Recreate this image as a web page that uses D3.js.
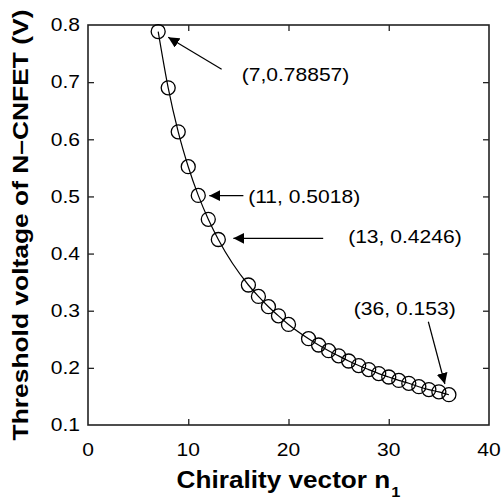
<!DOCTYPE html>
<html>
<head>
<meta charset="utf-8">
<script src="https://cdn.jsdelivr.net/npm/d3@7"></script>
<style>
  html, body { margin: 0; padding: 0; background: #fff; }
  svg { display: block; }
  text { font-family: "Liberation Sans", Arial, Helvetica, sans-serif; fill: #000; }
</style>
</head>
<body>
<svg id="chart" width="501" height="502"></svg>
<script>
// ---- data ----
const chirality = [7, 8, 9, 10, 11, 12, 13, 16, 17, 18, 19, 20, 22, 23, 24, 25, 26, 27, 28, 29, 30, 31, 32, 33, 34, 35, 36];
const thresholdVoltage = [0.78857, 0.690, 0.613, 0.552, 0.5018, 0.460, 0.4246, 0.345, 0.325, 0.307, 0.291, 0.276,
  0.251, 0.240, 0.230, 0.221, 0.212, 0.204, 0.197, 0.190, 0.184, 0.178, 0.173, 0.167, 0.162, 0.158, 0.153];
const xTickValues = [0, 10, 20, 30, 40];
const xTickLabels = ["0", "10", "20", "30", "40"];
const yTickValues = [0.1, 0.2, 0.3, 0.4, 0.5, 0.6, 0.7, 0.8];
const yTickLabels = ["0.1", "0.2", "0.3", "0.4", "0.5", "0.6", "0.7", "0.8"];
const annotationLabels = ["(7,0.78857)", "(11, 0.5018)", "(13, 0.4246)", "(36, 0.153)"];

// annotation layout (data units)
const annLayout = [
  { tip: [8.0, 0.7785], tail: [13.33, 0.7225], text: [15.33, 0.7125] },
  { tip: [12.1, 0.5013], tail: [15.5, 0.5013], text: [15.98, 0.4999] },
  { tip: [14.5, 0.4267], tail: [23.46, 0.4267], text: [25.95, 0.4295] },
  { tip: [35.6, 0.1717], tail: [33.95, 0.2807], text: [26.52, 0.3042] }
];

// ---- layout ----
const margin = { left: 88, right: 12, top: 25, bottom: 77 };
const W = 501, H = 502;
const x = d3.scaleLinear().domain([0, 40]).range([margin.left, W - margin.right]);
const y = d3.scaleLinear().domain([0.1, 0.8]).range([H - margin.bottom, margin.top]);
const svg = d3.select("#chart");
const stretch = 1.17;
const tickLen = 6;

const defs = svg.append("defs");
defs.append("marker")
  .attr("id", "arrow")
  .attr("viewBox", "0 0 11 11")
  .attr("refX", 11).attr("refY", 5.5)
  .attr("markerWidth", 11).attr("markerHeight", 11)
  .attr("markerUnits", "userSpaceOnUse")
  .attr("orient", "auto")
  .append("path").attr("d", "M0,0 L11,5.5 L0,11 Z").attr("fill", "#000");

// ---- axes (ticks inward on all sides) ----
const axB = d3.axisBottom(x).tickValues(xTickValues.slice(1, -1)).tickSize(-tickLen).tickFormat("");
const axT = d3.axisTop(x).tickValues(xTickValues.slice(1, -1)).tickSize(-tickLen).tickFormat("");
const axL = d3.axisLeft(y).tickValues(yTickValues.slice(1, -1)).tickSize(-tickLen).tickFormat("");
const axR = d3.axisRight(y).tickValues(yTickValues.slice(1, -1)).tickSize(-tickLen).tickFormat("");
[[axB, `translate(0,${y(0.1)})`], [axT, `translate(0,${y(0.8)})`],
 [axL, `translate(${x(0)},0)`], [axR, `translate(${x(40)},0)`]].forEach(([ax, tr]) => {
  const g = svg.append("g").attr("transform", tr).call(ax);
  g.select(".domain").remove();
  g.selectAll(".tick line").attr("stroke", "#222").attr("stroke-width", 1.3);
});
svg.append("rect")
  .attr("x", x(0)).attr("y", y(0.8))
  .attr("width", x(40) - x(0)).attr("height", y(0.1) - y(0.8))
  .attr("fill", "none").attr("stroke", "#222").attr("stroke-width", 1.6);

// tick labels
svg.append("g").selectAll("text").data(xTickValues).join("text")
  .attr("transform", d => `translate(${x(d)},456) scale(${stretch},1)`)
  .attr("text-anchor", "middle")
  .attr("font-size", 18)
  .text((d, i) => xTickLabels[i]);
svg.append("g").selectAll("text").data(yTickValues).join("text")
  .attr("transform", d => `translate(80,${y(d)}) scale(${stretch},1)`)
  .attr("text-anchor", "end")
  .attr("dy", "0.35em")
  .attr("font-size", 18)
  .text((d, i) => yTickLabels[i]);

// axis titles
const xt = svg.append("text")
  .attr("transform", `translate(${(x(0) + x(40)) / 2},488) scale(1.09,1)`)
  .attr("text-anchor", "middle")
  .attr("font-size", 24).attr("font-weight", "bold");
xt.append("tspan").text("Chirality vector n");
xt.append("tspan").attr("font-size", 15).attr("dy", 9).attr("dx", 1).text("1");

svg.append("text")
  .attr("transform", `translate(28,${(y(0.1) + y(0.8)) / 2}) rotate(-90) scale(1.2,1)`)
  .attr("text-anchor", "middle")
  .attr("font-size", 22).attr("font-weight", "bold")
  .text("Threshold voltage of N\u2013CNFET (V)");

// ---- series ----
const pts = chirality.map((c, i) => [c, thresholdVoltage[i]]);
svg.append("path")
  .datum(pts)
  .attr("d", d3.line().x(d => x(d[0])).y(d => y(d[1])).curve(d3.curveMonotoneX))
  .attr("fill", "none").attr("stroke", "#000").attr("stroke-width", 1.2);
svg.append("g").selectAll("circle").data(pts).join("circle")
  .attr("cx", d => x(d[0])).attr("cy", d => y(d[1]))
  .attr("r", 7)
  .attr("fill", "none").attr("stroke", "#000").attr("stroke-width", 1.3);

// ---- annotations ----
const ann = svg.append("g");
annLayout.forEach((a, i) => {
  ann.append("line")
    .attr("x1", x(a.tail[0])).attr("y1", y(a.tail[1]))
    .attr("x2", x(a.tip[0])).attr("y2", y(a.tip[1]))
    .attr("stroke", "#000").attr("stroke-width", 1.2)
    .attr("marker-end", "url(#arrow)");
  ann.append("text")
    .attr("transform", `translate(${x(a.text[0])},${y(a.text[1])}) scale(${stretch},1)`)
    .attr("dy", "0.35em")
    .attr("font-size", 18)
    .text(annotationLabels[i]);
});
</script>
</body>
</html>
